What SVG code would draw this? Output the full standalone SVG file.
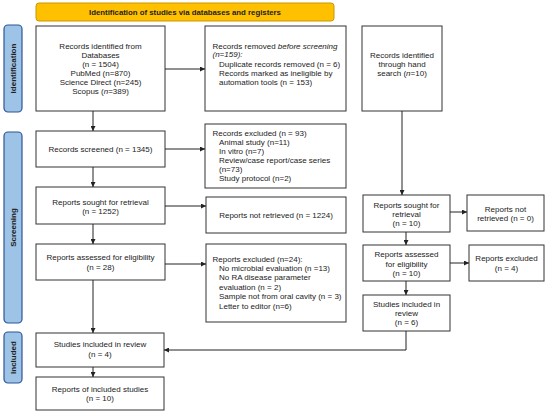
<svg xmlns="http://www.w3.org/2000/svg" width="550" height="414" viewBox="0 0 550 414">
<style>
.b{fill:#fff;stroke:#333;stroke-width:1}
.t{font-family:"Liberation Sans",Arial,sans-serif;font-size:8px;fill:#222}
.c{text-anchor:middle}
.side{fill:#9DC3E6;stroke:#2F5597;stroke-width:1.2}
.sl{font-family:"Liberation Sans",Arial,sans-serif;font-size:8px;font-weight:bold;fill:#222;text-anchor:middle}
.ln{fill:none;stroke:#222;stroke-width:1}
</style>
<defs>
<marker id="ah" viewBox="0 0 6 6" refX="6" refY="3" markerWidth="5" markerHeight="5" orient="auto" markerUnits="userSpaceOnUse">
<path d="M0,0 L6,3 L0,6 Z" fill="#222"/>
</marker>
</defs>
<rect width="550" height="414" fill="#fff"/>

<g id="banner">
<rect x="36" y="3" width="298" height="18" rx="3" fill="#FFC000" stroke="#C99700" stroke-width="1"/>
<text x="185" y="14.5" class="t c" style="font-weight:bold;font-size:7.8px">Identification of studies via databases and registers</text>
</g>

<g id="side-identification">
<rect x="4" y="25" width="18" height="87" rx="4" class="side"/>
<text class="sl" transform="translate(15.8,68.5) rotate(-90)">Identification</text>
</g>
<g id="side-screening">
<rect x="4" y="132" width="18" height="191" rx="4" class="side"/>
<text class="sl" transform="translate(15.8,227.5) rotate(-90)">Screening</text>
</g>
<g id="side-included">
<rect x="4" y="332" width="18" height="51" rx="4" class="side"/>
<text class="sl" transform="translate(15.8,357.5) rotate(-90)">Included</text>
</g>

<g id="records-identified">
<rect x="36" y="26" width="129" height="85" class="b"/>
<text class="t c" x="100.5" y="49">Records identified from</text>
<text class="t c" x="100.5" y="58">Databases</text>
<text class="t c" x="100.5" y="67">(n = 1504)</text>
<text class="t c" x="100.5" y="76">PubMed (n=870)</text>
<text class="t c" x="100.5" y="85">Science Direct (n=245)</text>
<text class="t c" x="100.5" y="94">Scopus (<tspan font-style="italic">n</tspan>=389)</text>
</g>

<g id="records-removed">
<rect x="205" y="26" width="141" height="85" class="b"/>
<text class="t" x="212.5" y="48.5">Records removed <tspan font-style="italic">before screening</tspan></text>
<text class="t" x="212.5" y="57" font-style="italic">(n=159):</text>
<text class="t" x="219" y="66.5">Duplicate records removed (n = 6)</text>
<text class="t" x="219" y="75.5">Records marked as ineligible by</text>
<text class="t" x="219" y="84.5">automation tools (n = 153)</text>
</g>

<g id="hand-search">
<rect x="362" y="26" width="80" height="85" class="b"/>
<text class="t c" x="402" y="57.5">Records identified</text>
<text class="t c" x="402" y="66.5">through hand</text>
<text class="t c" x="402" y="75.5">search (<tspan font-style="italic">n</tspan>=10)</text>
</g>

<g id="records-screened">
<rect x="36" y="131" width="129" height="36" class="b"/>
<text class="t c" x="100.5" y="152">Records screened (n = 1345)</text>
</g>

<g id="records-excluded">
<rect x="205" y="124" width="141" height="64" class="b"/>
<text class="t" x="212.5" y="136">Records excluded (n = 93)</text>
<text class="t" x="219" y="145">Animal study (n=11)</text>
<text class="t" x="219" y="154">In vitro (n=7)</text>
<text class="t" x="219" y="163">Review/case report/case series</text>
<text class="t" x="219" y="172">(n=73)</text>
<text class="t" x="219" y="181">Study protocol (n=2)</text>
</g>

<g id="reports-sought">
<rect x="36" y="187" width="129" height="37" class="b"/>
<text class="t c" x="100.5" y="204.5">Reports sought for retrieval</text>
<text class="t c" x="100.5" y="213.5">(n = 1252)</text>
</g>

<g id="reports-not-retrieved">
<rect x="206" y="197" width="140" height="36" class="b"/>
<text class="t c" x="276" y="218">Reports not retrieved (n = 1224)</text>
</g>

<g id="reports-assessed">
<rect x="36" y="244" width="129" height="36" class="b"/>
<text class="t c" x="100.5" y="260">Reports assessed for eligibility</text>
<text class="t c" x="100.5" y="269.5">(n = 28)</text>
</g>

<g id="reports-excluded">
<rect x="206" y="244" width="140" height="78" class="b"/>
<text class="t" x="212.5" y="262">Reports excluded (n=24):</text>
<text class="t" x="219" y="271">No microbial evaluation (n =13)</text>
<text class="t" x="219" y="280">No RA disease parameter</text>
<text class="t" x="219" y="289.5">evaluation (n = 2)</text>
<text class="t" x="219" y="299">Sample not from oral cavity (n = 3)</text>
<text class="t" x="219" y="308.5">Letter to editor (n=6)</text>
</g>

<g id="hs-reports-sought">
<rect x="363" y="195" width="87" height="37" class="b"/>
<text class="t c" x="406.5" y="208">Reports sought for</text>
<text class="t c" x="406.5" y="216.5">retrieval</text>
<text class="t c" x="406.5" y="225.5">(n = 10)</text>
</g>

<g id="hs-reports-not-retrieved">
<rect x="467" y="195" width="77" height="36" class="b"/>
<text class="t c" x="505.5" y="212">Reports not</text>
<text class="t c" x="505.5" y="221">retrieved (n = 0)</text>
</g>

<g id="hs-reports-assessed">
<rect x="363" y="245" width="87" height="36" class="b"/>
<text class="t c" x="406.5" y="257">Reports assessed</text>
<text class="t c" x="406.5" y="266.5">for eligibility</text>
<text class="t c" x="406.5" y="276">(n = 10)</text>
</g>

<g id="hs-reports-excluded">
<rect x="469" y="245" width="75" height="36" class="b"/>
<text class="t c" x="506.5" y="261">Reports excluded</text>
<text class="t c" x="506.5" y="270.5">(n = 4)</text>
</g>

<g id="hs-studies-included">
<rect x="363" y="295" width="87" height="36" class="b"/>
<text class="t c" x="406.5" y="307">Studies included in</text>
<text class="t c" x="406.5" y="315.5">review</text>
<text class="t c" x="406.5" y="325">(n = 6)</text>
</g>

<g id="studies-included">
<rect x="36" y="333" width="128" height="34" class="b"/>
<text class="t c" x="100" y="347">Studies included in review</text>
<text class="t c" x="100" y="357">(n = 4)</text>
</g>

<g id="reports-included">
<rect x="36" y="377" width="128" height="33" class="b"/>
<text class="t c" x="100" y="392">Reports of included studies</text>
<text class="t c" x="100" y="401">(n = 10)</text>
</g>

<g id="connectors">
<path class="ln" d="M165,69 H205" marker-end="url(#ah)"/>
<path class="ln" d="M93,111 V131" marker-end="url(#ah)"/>
<path class="ln" d="M165,149 H205" marker-end="url(#ah)"/>
<path class="ln" d="M93,167 V187" marker-end="url(#ah)"/>
<path class="ln" d="M165,206 H206" marker-end="url(#ah)"/>
<path class="ln" d="M93,224 V244" marker-end="url(#ah)"/>
<path class="ln" d="M165,264 H206" marker-end="url(#ah)"/>
<path class="ln" d="M93,280 V333" marker-end="url(#ah)"/>
<path class="ln" d="M93,367 V377" marker-end="url(#ah)"/>
<path class="ln" d="M402,111 V195" marker-end="url(#ah)"/>
<path class="ln" d="M450,212 H467" marker-end="url(#ah)"/>
<path class="ln" d="M406,232 V245" marker-end="url(#ah)"/>
<path class="ln" d="M450,263 H469" marker-end="url(#ah)"/>
<path class="ln" d="M406,281 V295" marker-end="url(#ah)"/>
<path class="ln" d="M406,331 V350 H164" marker-end="url(#ah)"/>
</g>
</svg>
